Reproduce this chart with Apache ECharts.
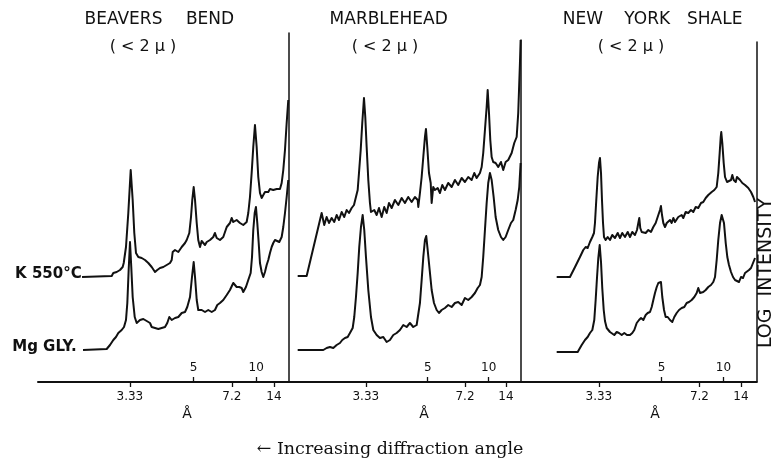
<!DOCTYPE html>
<html><head><meta charset="utf-8">
<script src="https://cdn.jsdelivr.net/npm/echarts@6/dist/echarts.min.js"></script>
<style>html,body{margin:0;padding:0;background:#fff}#c{width:775px;height:473px}</style>
</head><body><div id="c"></div>
<script>
// ---- DATA (x = diffraction angle 2θ in degrees, y = log intensity, arbitrary units) ----
const panelTitles = [['BEAVERS','BEND'], ['MARBLEHEAD'], ['NEW','YORK','SHALE']];
const sizeNote = '( < 2 μ )';
const traceNames = ['K 550°C', 'Mg GLY.'];
const outerTickLabels = ['3.33', '7.2', '14'];   // d-spacings (Å), labels below the axis
const innerTickLabels = ['5', '10'];             // d-spacings (Å), labels above the axis
const panelAngleRange = [[4.25, 39.81], [4.16, 38.06], [4.05, 38.02]];

// Beavers Bend, K 550°C
const bbK = [[33.56,105],[29.35,106],[29.12,109],[28.64,110],[28.4,108],[28.17,112],[27.79,115],[27.64,119],[27.32,135],[26.99,169],[26.65,212],[26.37,182],[26.14,149],[25.90,129],[25.57,125],[25.33,127],[25.09,124],[24.86,122],[24.62,122],[24.38,124],[24.15,119],[23.91,118],[23.67,115],[23.43,114],[23.20,110],[22.88,112],[22.49,114],[22.02,115],[21.54,117],[21.07,119],[20.83,122],[20.69,130],[20.36,132],[19.89,130],[19.65,129],[19.41,135],[18.94,139],[18.70,142],[18.33,149],[18.09,165],[17.91,182],[17.71,195],[17.52,182],[17.28,159],[17.06,142],[16.81,135],[16.58,141],[16.35,139],[16.10,137],[15.86,140],[15.62,141],[15.39,142],[14.93,145],[14.69,149],[14.44,144],[13.98,142],[13.51,145],[13.02,155],[12.56,159],[12.32,164],[12.09,160],[11.85,159],[11.61,162],[11.38,160],[11.14,159],[10.67,157],[10.19,160],[9.96,169],[9.72,185],[9.48,209],[9.25,235],[9.01,257],[8.77,235],[8.54,205],[8.30,189],[8.06,184],[7.83,182],[7.59,190],[7.35,192],[7.12,190],[6.88,193],[6.64,194],[6.41,192],[6.17,191],[5.93,193],[5.70,194],[5.46,193],[5.22,199],[4.99,212],[4.75,232],[4.51,259],[4.28,282]];
// Beavers Bend, Mg glycerol
const bbM = [[33.42,32],[30.06,33],[29.59,37],[29.12,42],[28.74,45],[28.41,49],[27.93,52],[27.60,55],[27.32,62],[27.13,79],[26.94,112],[26.75,140],[26.57,115],[26.37,85],[26.08,65],[25.80,59],[25.57,60],[25.33,62],[25.09,64],[24.86,63],[24.62,61],[24.38,61],[24.15,60],[23.91,59],[23.67,55],[23.20,54],[22.73,53],[22.25,54],[21.78,55],[21.46,59],[21.17,65],[20.83,62],[20.36,64],[19.89,65],[19.41,69],[18.94,70],[18.62,75],[18.23,85],[17.95,105],[17.71,120],[17.52,105],[17.28,82],[17.06,72],[16.57,72],[16.10,70],[15.64,72],[15.15,70],[14.69,72],[14.36,77],[13.98,79],[13.51,82],[13.02,87],[12.56,92],[12.09,99],[11.85,100],[11.61,95],[11.24,95],[10.90,94],[10.67,90],[10.29,95],[9.96,102],[9.62,109],[9.43,125],[9.25,152],[9.05,169],[8.87,175],[8.68,159],[8.48,139],[8.30,119],[8.06,110],[7.83,105],[7.59,110],[7.35,117],[7.12,122],[6.88,129],[6.64,135],[6.41,139],[6.17,142],[5.93,144],[5.56,140],[5.22,145],[4.99,155],[4.75,169],[4.51,185],[4.28,202]];
// Marblehead, K 550°C
const mhK = [[36.72,106],[35.41,106],[33.22,169],[32.84,157],[32.49,165],[32.15,159],[31.76,164],[31.38,160],[31.03,167],[30.69,162],[30.30,170],[29.92,165],[29.57,172],[29.23,169],[28.84,174],[28.50,177],[28.25,184],[27.96,192],[27.77,209],[27.52,232],[27.29,259],[27.04,284],[26.85,265],[26.65,235],[26.41,202],[26.17,179],[26.02,170],[25.77,169],[25.54,172],[25.19,167],[24.85,174],[24.46,165],[24.08,175],[23.73,169],[23.39,179],[23.00,174],[22.52,182],[22.03,177],[21.54,184],[21.06,179],[20.58,185],[20.08,180],[19.60,185],[19.20,182],[19.11,175],[18.87,189],[18.62,205],[18.38,225],[18.14,245],[17.99,253],[17.80,235],[17.55,209],[17.30,199],[17.16,179],[16.93,195],[16.68,192],[16.28,194],[15.95,189],[15.61,197],[15.22,192],[14.74,199],[14.24,195],[13.76,202],[13.28,197],[12.78,204],[12.30,200],[11.82,205],[11.32,202],[10.94,209],[10.59,204],[10.11,209],[9.86,215],[9.63,229],[9.38,252],[9.13,275],[8.98,292],[8.79,269],[8.60,242],[8.40,225],[8.17,220],[7.82,219],[7.44,215],[7.04,220],[6.71,212],[6.36,220],[5.98,222],[5.48,229],[5.10,239],[4.75,245],[4.52,269],[4.27,319],[4.17,342]];
// Marblehead, Mg glycerol
const mhM = [[36.72,32],[32.98,32],[32.49,34],[32.01,35],[31.52,34],[31.03,37],[30.55,39],[30.21,42],[29.82,44],[29.42,45],[29.09,49],[28.69,54],[28.46,65],[28.21,85],[27.96,109],[27.73,135],[27.48,155],[27.23,167],[27.00,152],[26.75,125],[26.41,92],[26.02,65],[25.68,52],[25.19,47],[24.71,44],[24.22,45],[23.73,40],[23.25,42],[22.76,47],[22.27,49],[21.79,52],[21.30,57],[20.81,55],[20.33,59],[19.85,55],[19.35,57],[19.11,59],[18.87,79],[18.62,102],[18.38,125],[18.14,142],[17.95,146],[17.74,132],[17.45,112],[17.16,92],[16.82,79],[16.43,72],[16.09,69],[15.70,72],[15.22,74],[14.74,77],[14.24,75],[13.76,79],[13.28,80],[12.78,77],[12.30,84],[11.82,82],[11.32,85],[10.84,89],[10.44,94],[10.11,97],[9.86,105],[9.63,125],[9.38,152],[9.13,179],[8.90,199],[8.65,209],[8.40,202],[8.11,185],[7.82,165],[7.44,152],[7.04,145],[6.71,142],[6.36,145],[5.98,152],[5.58,159],[5.25,162],[4.90,172],[4.60,182],[4.37,195],[4.17,219]];
// New York shale, K 550°C
const nyK = [[32.84,105],[30.93,105],[30.20,115],[29.49,125],[29.01,132],[28.67,135],[28.38,134],[28.05,140],[27.71,145],[27.47,149],[27.33,159],[27.14,182],[26.94,205],[26.75,219],[26.61,224],[26.46,209],[26.32,182],[26.17,159],[26.03,145],[25.79,142],[25.50,145],[25.17,142],[24.84,147],[24.45,144],[24.06,149],[23.73,144],[23.40,149],[23.01,145],[22.62,150],[22.29,145],[21.96,150],[21.57,147],[21.28,152],[21.09,159],[20.95,164],[20.81,154],[20.60,150],[20.32,152],[20.03,149],[19.65,152],[19.27,150],[18.93,155],[18.59,159],[18.21,167],[17.97,172],[17.83,176],[17.68,167],[17.49,159],[17.25,155],[17.00,159],[16.77,157],[16.53,162],[16.29,159],[16.05,164],[15.81,160],[15.34,165],[14.85,167],[14.62,164],[14.27,170],[13.90,169],[13.51,172],[13.18,170],[12.83,175],[12.46,174],[12.07,179],[11.74,180],[11.39,184],[11.02,187],[10.53,190],[10.15,192],[9.81,195],[9.58,209],[9.38,229],[9.23,245],[9.15,250],[9.00,239],[8.80,219],[8.61,205],[8.32,200],[8.04,199],[7.75,202],[7.56,207],[7.36,202],[7.07,200],[6.89,205],[6.70,207],[6.45,202],[6.12,199],[5.73,197],[5.26,194],[4.87,190],[4.54,185],[4.29,180]];
// New York shale, Mg glycerol
const nyM = [[32.84,30],[29.82,30],[29.24,37],[28.77,42],[28.38,45],[28.05,49],[27.71,52],[27.43,62],[27.23,82],[27.04,104],[26.85,124],[26.65,137],[26.46,120],[26.28,94],[26.07,72],[25.89,61],[25.64,54],[25.41,52],[25.17,50],[24.92,49],[24.55,47],[24.20,50],[23.87,49],[23.48,47],[23.11,49],[22.72,47],[22.29,47],[21.96,49],[21.67,52],[21.32,59],[20.99,62],[20.70,64],[20.37,62],[20.03,67],[19.74,69],[19.41,70],[19.16,75],[18.93,82],[18.69,89],[18.44,95],[18.21,99],[17.83,100],[17.64,85],[17.39,72],[17.15,65],[16.86,65],[16.53,62],[16.20,60],[15.91,65],[15.57,69],[15.23,72],[14.85,74],[14.47,75],[14.13,79],[13.79,80],[13.41,82],[13.03,85],[12.69,89],[12.46,94],[12.21,89],[11.97,87],[11.74,90],[11.39,92],[11.02,95],[10.63,97],[10.30,100],[10.05,105],[9.81,122],[9.58,142],[9.33,159],[9.09,167],[8.94,169],[8.76,159],[8.51,139],[8.28,125],[8.04,117],[7.75,110],[7.46,105],[7.17,102],[6.89,104],[6.60,100],[6.31,105],[6.02,104],[5.73,109],[5.45,107],[5.16,112],[4.87,114],[4.58,119],[4.29,124]];

const panelSeries = [[bbK, bbM], [mhK, mhM], [nyK, nyM]];

// ---- helpers ----
const LAMBDA = 1.5418; // Cu Kα, Å
function twoTheta(d) { return 2 * Math.asin(LAMBDA / (2 * d)) * 180 / Math.PI; }
const allLabels = outerTickLabels.concat(innerTickLabels);
function dLabel(v) {
  let best = allLabels[0], bd = 1e9;
  allLabels.forEach(l => { const e = Math.abs(twoTheta(parseFloat(l)) - v); if (e < bd) { bd = e; best = l; } });
  return best;
}
const outerVals = outerTickLabels.map(l => twoTheta(parseFloat(l)));
const innerVals = innerTickLabels.map(l => twoTheta(parseFloat(l)));

// ---- layout ----
const BASE = 382;
const grids = [
  { left: 38, top: 33, width: 250.5, height: BASE - 33 },
  { left: 288.5, top: 40, width: 232.2, height: BASE - 40 },
  { left: 520.7, top: 42, width: 236, height: BASE - 42 }
];
const INK = '#111';
const lblFont = { fontFamily: 'DejaVu Sans', fontSize: 12, color: INK };

const xAxis = [], yAxis = [], series = [];
grids.forEach((g, i) => {
  const [mn, mx] = panelAngleRange[i];
  xAxis.push({
    type: 'value', gridIndex: i, inverse: true, min: mn, max: mx, position: 'bottom',
    axisLine: { show: true, onZero: false, lineStyle: { color: INK, width: 2 } },
    axisTick: { show: true, length: 5, lineStyle: { color: INK, width: 1.3 }, customValues: outerVals },
    axisLabel: { show: true, margin: 9, customValues: outerVals, formatter: dLabel, ...lblFont },
    splitLine: { show: false }
  });
  yAxis.push({
    type: 'value', gridIndex: i, min: 0, max: g.height, position: 'right',
    axisLine: { show: true, lineStyle: { color: INK, width: 1.5 } },
    axisTick: { show: false }, axisLabel: { show: false }, splitLine: { show: false }
  });
});
grids.forEach((g, i) => {
  const [mn, mx] = panelAngleRange[i];
  xAxis.push({
    type: 'value', gridIndex: i, inverse: true, min: mn, max: mx, position: 'bottom', offset: 0,
    axisLine: { show: false, onZero: false },
    axisTick: { show: true, inside: true, length: 5, lineStyle: { color: INK, width: 1.3 }, customValues: innerVals },
    axisLabel: { show: true, inside: true, margin: 8, customValues: innerVals, formatter: dLabel, ...lblFont },
    splitLine: { show: false }
  });
});
panelSeries.forEach((pair, i) => {
  pair.forEach((data, k) => {
    series.push({
      type: 'line', name: traceNames[k], xAxisIndex: i, yAxisIndex: i, data: data,
      showSymbol: false, symbol: 'none', smooth: false, clip: true,
      lineStyle: { color: INK, width: 2, join: 'round' }, z: 5
    });
  });
});

// ---- text ----
const graphic = [];
function txt(x, y, text, font, align, rot) {
  graphic.push({ type: 'text', x: x, y: y, rotation: rot || 0, silent: true,
    style: { text: text, font: font, fill: INK, align: align || 'center', verticalAlign: 'middle' } });
}
const titleFont = '17px "DejaVu Sans"';
txt(123.5, 20, panelTitles[0][0], titleFont); txt(210, 20, panelTitles[0][1], titleFont);
txt(388.7, 20, panelTitles[1][0], titleFont);
txt(583, 20, panelTitles[2][0], titleFont); txt(647.2, 20, panelTitles[2][1], titleFont); txt(714.7, 20, panelTitles[2][2], titleFont);
const noteFont = '16px "DejaVu Sans"';
txt(143, 47, sizeNote, noteFont); txt(385, 47, sizeNote, noteFont); txt(631, 47, sizeNote, noteFont);
txt(81.7, 274, traceNames[0], 'bold 15px "DejaVu Sans"', 'right');
txt(76.7, 347, traceNames[1], 'bold 15px "DejaVu Sans"', 'right');
const aFont = '14px "DejaVu Sans"';
txt(187, 414, 'Å', aFont); txt(424, 414, 'Å', aFont); txt(655, 414, 'Å', aFont);
txt(766, 273, 'LOG  INTENSITY', '19px "DejaVu Sans"', 'center', Math.PI / 2);
txt(390, 449, '← Increasing diffraction angle', '17.5px "DejaVu Serif"');

const chart = echarts.init(document.getElementById('c'), null, { renderer: 'canvas' });
chart.setOption({
  animation: false, backgroundColor: '#fff',
  grid: grids, xAxis: xAxis, yAxis: yAxis, series: series, graphic: graphic
});
</script></body></html>
